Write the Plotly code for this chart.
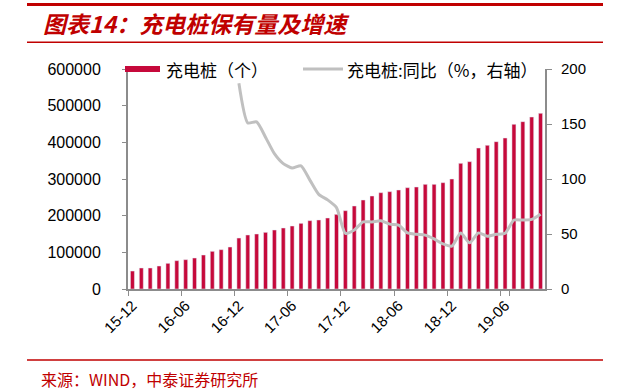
import plotly.graph_objects as go

months = ["15-12", "16-01", "16-02", "16-03", "16-04", "16-05", "16-06", "16-07", "16-08", "16-09",
          "16-10", "16-11", "16-12", "17-01", "17-02", "17-03", "17-04", "17-05", "17-06", "17-07",
          "17-08", "17-09", "17-10", "17-11", "17-12", "18-01", "18-02", "18-03", "18-04", "18-05",
          "18-06", "18-07", "18-08", "18-09", "18-10", "18-11", "18-12", "19-01", "19-02", "19-03",
          "19-04", "19-05", "19-06", "19-07", "19-08", "19-09", "19-10"]

piles = [49000, 57300, 57300, 62700, 70000, 77300, 80000, 84500, 92700, 102700,
         107300, 114500, 139000, 147300, 150000, 154500, 160900, 166400, 171800, 179100,
         186400, 188200, 193600, 203600, 213600, 226400, 242700, 253600, 262700, 265500,
         270000, 276300, 278200, 285500, 285500, 290000, 300000, 342800, 347300, 384500,
         391800, 401800, 411800, 449100, 456400, 469100, 479100]

yoy = [None] * 12 + [187, 151, 152, 138, 123, 114, 110, 112, 99, 86,
                     81, 74, 50.6, 53.6, 61, 61, 62, 59, 58, 51,
                     49.7, 49, 45.5, 41, 39, 51, 42, 51, 48, 49.7,
                     50.6, 62.7, 62.7, 63.3, 68]

left_ticks = [0, 100000, 200000, 300000, 400000, 500000, 600000]
right_ticks = [0, 50, 100, 150, 200]

bar_name = "充电桩（个）"
line_name = "充电桩:同比（%，右轴）"
title_text = "图表14：充电桩保有量及增速"
source_text = "来源：WIND，中泰证券研究所"

BAR_COLOR = "#C6093B"
LINE_COLOR = "#C0C0C0"
RED = "#C00000"
AXIS = "#8C8C8C"
NUM_FONT = "Arial, Liberation Sans, sans-serif"
CJK_FONT = "Noto Sans CJK SC, sans-serif"

W, H = 644, 392
L, R, T, B = 128, 545, 69, 289


def px(x):
    return (x - L) / (R - L)


def py(y):
    return (B - y) / (B - T)


fig = go.Figure()
fig.add_trace(go.Bar(x=months, y=piles, name=bar_name, marker_color=BAR_COLOR,
                     width=0.45, showlegend=False))
fig.add_trace(go.Scatter(x=months, y=yoy, name=line_name, yaxis="y2", mode="lines",
                         line=dict(color=LINE_COLOR, width=3, shape="spline", smoothing=0.6),
                         connectgaps=False, showlegend=False))

fig.update_layout(
    width=W, height=H,
    margin=dict(l=L, r=W - R, t=T, b=H - B),
    paper_bgcolor="white", plot_bgcolor="white",
    xaxis=dict(type="category", tickmode="array", tickvals=months[::6], ticktext=months[::6],
               tickangle=-45, tickson="boundaries", ticks="outside", ticklen=5, tickcolor=AXIS,
               showline=True, linecolor=AXIS, linewidth=2, showgrid=False,
               tickfont=dict(family=NUM_FONT, size=15, color="#000000"),
               range=[-0.5, len(months) - 0.5]),
    yaxis=dict(range=[0, 600000], tickvals=left_ticks, ticktext=[str(v) for v in left_ticks],
               ticks="outside", ticklen=4, tickcolor=AXIS, showline=True, linecolor=AXIS,
               linewidth=2, showgrid=False, zeroline=False, ticklabelstandoff=18,
               tickfont=dict(family=NUM_FONT, size=16, color="#000000")),
    yaxis2=dict(range=[0, 200], tickvals=right_ticks, overlaying="y", side="right",
                ticks="outside", ticklen=5, tickcolor=AXIS, showline=True, linecolor=AXIS,
                linewidth=2, showgrid=False, zeroline=False, ticklabelstandoff=6,
                tickfont=dict(family=NUM_FONT, size=15, color="#000000")),
    bargap=0.55,
)

shapes = [
    # header / footer rules
    dict(type="line", xref="paper", yref="paper", x0=px(27), x1=px(603), y0=py(4.5), y1=py(4.5),
         line=dict(color=RED, width=3)),
    dict(type="line", xref="paper", yref="paper", x0=px(27), x1=px(603), y0=py(42.3), y1=py(42.3),
         line=dict(color=RED, width=1.5)),
    dict(type="line", xref="paper", yref="paper", x0=px(27), x1=px(603), y0=py(360), y1=py(360),
         line=dict(color=RED, width=1.5)),
    # legend swatches
    dict(type="rect", xref="paper", yref="paper", x0=px(125), x1=px(160), y0=py(72), y1=py(66),
         fillcolor=BAR_COLOR, line=dict(width=0)),
    dict(type="line", xref="paper", yref="paper", x0=px(303), x1=px(343), y0=py(69), y1=py(69),
         line=dict(color=LINE_COLOR, width=3)),
]

annotations = [
    dict(text=title_text, xref="paper", yref="paper", x=px(41), y=py(23), xanchor="left",
         yanchor="middle", showarrow=False,
         font=dict(family=CJK_FONT, size=23, color=RED, weight="bold", style="italic")),
    dict(text=source_text, xref="paper", yref="paper", x=px(39), y=py(379), xanchor="left",
         yanchor="middle", showarrow=False,
         font=dict(family=CJK_FONT, size=16, color=RED)),
    dict(text=bar_name, xref="paper", yref="paper", x=px(164), y=py(69), xanchor="left",
         yanchor="middle", showarrow=False,
         font=dict(family=CJK_FONT, size=17, color="#000000")),
    dict(text=line_name, xref="paper", yref="paper", x=px(345), y=py(69), xanchor="left",
         yanchor="middle", showarrow=False,
         font=dict(family=CJK_FONT, size=17, color="#000000")),
]

fig.update_layout(shapes=shapes, annotations=annotations)
fig.write_html("out.html", config={"displayModeBar": False},
               post_script="document.body.style.margin='0px';document.body.style.padding='0px';")
